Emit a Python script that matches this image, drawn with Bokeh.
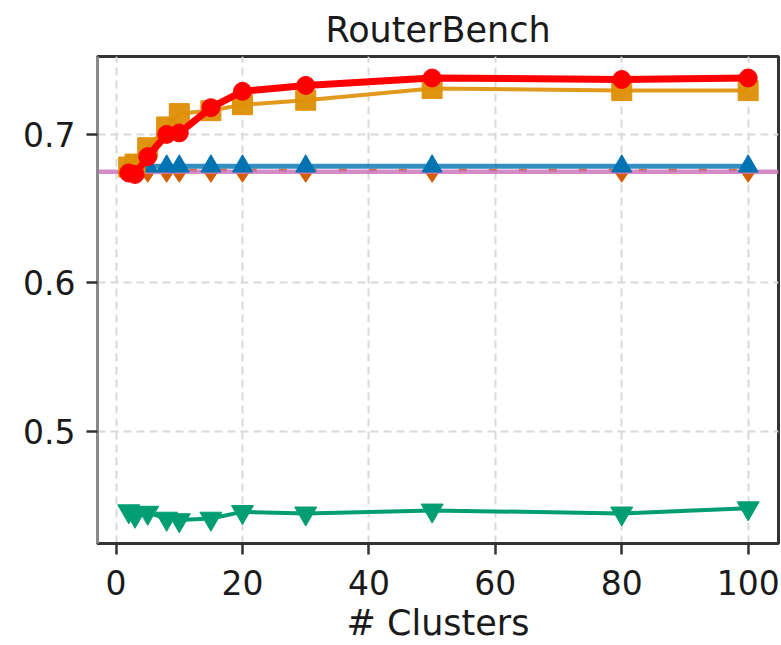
from bokeh.plotting import figure
from bokeh.embed import file_html
from bokeh.resources import INLINE
from bokeh.models import Range1d, FixedTicker, ColumnDataSource

clusters = [2, 3, 5, 8, 10, 15, 20, 30, 50, 80, 100]
red_series = [0.674, 0.673, 0.685, 0.700, 0.701, 0.718, 0.729, 0.733, 0.738, 0.737, 0.738]
orange_squares = [0.678, 0.680, 0.691, 0.705, 0.714, 0.716, 0.720, 0.723, 0.731, 0.7295, 0.7295]
blue_triangles = [0.6785] * 11
dark_orange_diamonds = [0.6758] * 11
green_triangles = [0.446, 0.443, 0.445, 0.441, 0.440, 0.441, 0.4455, 0.4445, 0.4465, 0.4445, 0.448]
pink_level = 0.6748

x_ticks = [0, 20, 40, 60, 80, 100]
y_ticks = [0.5, 0.6, 0.7]

FONT = "DejaVu Sans"

p = figure(width=781, height=645, output_backend="svg", toolbar_location=None,
           x_range=Range1d(-2.94, 104.8), y_range=Range1d(0.4242, 0.7525),
           min_border_left=97, min_border_right=3, min_border_top=55, min_border_bottom=100)

p.title.text = "RouterBench"
p.title.align = "center"
p.title.text_font = FONT
p.title.text_font_size = "35px"
p.title.text_font_style = "normal"
p.title.text_color = "#1a1a1a"
p.title.standoff = 14

p.background_fill_color = "white"
p.border_fill_color = "white"
p.outline_line_color = "#333333"
p.outline_line_width = 3

# grid
for g in (p.xgrid, p.ygrid):
    g.grid_line_color = "#d9d9d9"
    g.grid_line_width = 2
    g.grid_line_dash = "8 5"
p.xgrid.ticker = FixedTicker(ticks=x_ticks)
p.ygrid.ticker = FixedTicker(ticks=y_ticks)

# axes
p.xaxis.ticker = FixedTicker(ticks=x_ticks)
p.yaxis.ticker = FixedTicker(ticks=y_ticks)
p.xaxis.axis_label = "# Clusters"
for ax in (p.xaxis[0], p.yaxis[0]):
    ax.major_label_text_font = FONT
    ax.major_label_text_font_size = "33px"
    ax.major_label_text_color = "#1a1a1a"
    ax.axis_label_text_font = FONT
    ax.axis_label_text_font_size = "35px"
    ax.axis_label_text_font_style = "normal"
    ax.axis_label_text_color = "#1a1a1a"
    ax.major_tick_out = 11
    ax.major_tick_in = 0
    ax.minor_tick_out = 0
    ax.minor_tick_in = 0
    ax.major_tick_line_color = "#333333"
    ax.major_tick_line_width = 2.5
    ax.major_label_standoff = 11
p.xaxis.major_label_standoff = 15
p.xaxis.axis_line_color = "#333333"
p.xaxis.axis_line_width = 3
p.xaxis.axis_label_standoff = 5
p.yaxis.axis_line_color = "#8a8a8a"
p.yaxis.axis_line_width = 3

src = ColumnDataSource(dict(x=clusters, red=red_series, sq=orange_squares, blue=blue_triangles,
                            dia=dark_orange_diamonds, green=green_triangles))

# dark orange dashed with diamonds
p.line("x", "dia", source=src, color="#d55e00", line_width=3, line_dash="8 22")
p.scatter("x", "dia", source=src, marker="diamond", size=24, color="#d55e00")

# pink horizontal reference line spanning the full width
p.line(x=[-2.94, 104.8], y=[pink_level, pink_level], color="#cc78bc", line_width=4.5, alpha=0.85)

# blue triangles
p.line("x", "blue", source=src, color="#0173b2", line_width=5, alpha=0.8)
p.scatter("x", "blue", source=src, marker="triangle", size=20, color="#0173b2")

# orange squares
p.line("x", "sq", source=src, color="#de8f05", line_width=4, alpha=0.9)
p.scatter("x", "sq", source=src, marker="square", size=20, color="#de8f05", alpha=0.95)

# green inverted triangles
p.line("x", "green", source=src, color="#029e73", line_width=4)
p.scatter("x", "green", source=src, marker="inverted_triangle", size=22, color="#029e73")

# red circles
p.line("x", "red", source=src, color="#ff0000", line_width=7)
p.scatter("x", "red", source=src, marker="circle", size=18, color="#ff0000")

open("out.html", "w").write(file_html(p, INLINE))
